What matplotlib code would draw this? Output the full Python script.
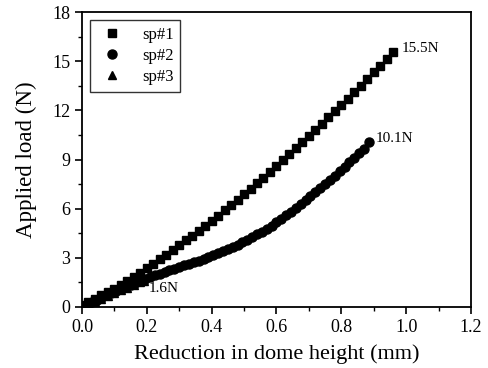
import numpy as np
import matplotlib.pyplot as plt
from matplotlib.ticker import MultipleLocator

plt.rcParams['font.family'] = ['Liberation Serif', 'DejaVu Serif']
plt.rcParams['mathtext.fontset'] = 'stix'

# sp#1 (squares)
sp1_x = [0.00, 0.02, 0.04, 0.06, 0.08, 0.10, 0.12, 0.14, 0.16, 0.18,
         0.20, 0.22, 0.24, 0.26, 0.28, 0.30, 0.32, 0.34, 0.36, 0.38,
         0.40, 0.42, 0.44, 0.46, 0.48, 0.50, 0.52, 0.54, 0.56, 0.58,
         0.60, 0.62, 0.64, 0.66, 0.68, 0.70, 0.72, 0.74, 0.76, 0.78,
         0.80, 0.82, 0.84, 0.86, 0.88, 0.90, 0.92, 0.94, 0.96]
sp1_y = [0.10, 0.30, 0.50, 0.72, 0.92, 1.12, 1.35, 1.58, 1.82, 2.08,
         2.35, 2.62, 2.90, 3.18, 3.48, 3.78, 4.06, 4.35, 4.65, 4.95,
         5.25, 5.58, 5.90, 6.22, 6.55, 6.90, 7.22, 7.55, 7.90, 8.25,
         8.60, 8.95, 9.32, 9.70, 10.08, 10.45, 10.82, 11.20, 11.58, 11.95,
         12.32, 12.72, 13.12, 13.52, 13.92, 14.32, 14.72, 15.12, 15.55]

# sp#2 (circles)
sp2_x = [0.000, 0.015, 0.030, 0.045, 0.060, 0.075, 0.090, 0.105, 0.120, 0.135,
         0.150, 0.165, 0.180, 0.195, 0.210, 0.225, 0.240, 0.255, 0.270, 0.285,
         0.300, 0.315, 0.330, 0.345, 0.360, 0.375, 0.390, 0.405, 0.420, 0.435,
         0.450, 0.465, 0.480, 0.495, 0.510, 0.525, 0.540, 0.555, 0.570, 0.585,
         0.600, 0.615, 0.630, 0.645, 0.660, 0.675, 0.690, 0.705, 0.720, 0.735,
         0.750, 0.765, 0.780, 0.795, 0.810, 0.825, 0.840, 0.855, 0.870, 0.886]
sp2_y = [0.00, 0.14, 0.28, 0.42, 0.56, 0.70, 0.83, 0.96, 1.09, 1.22,
         1.35, 1.47, 1.59, 1.71, 1.82, 1.93, 2.04, 2.14, 2.24, 2.34,
         2.44, 2.54, 2.63, 2.73, 2.83, 2.93, 3.04, 3.15, 3.27, 3.39,
         3.52, 3.66, 3.80, 3.95, 4.10, 4.26, 4.43, 4.60, 4.78, 4.97,
         5.17, 5.38, 5.59, 5.81, 6.04, 6.27, 6.51, 6.75, 7.00, 7.25,
         7.50, 7.76, 8.02, 8.28, 8.55, 8.82, 9.10, 9.38, 9.66, 10.10]

# sp#3 (triangles), mostly hidden under the others
sp3_x = [0.00, 0.02, 0.04, 0.06, 0.08, 0.10, 0.12, 0.14, 0.16, 0.18, 0.19]
sp3_y = [0.00, 0.16, 0.33, 0.50, 0.67, 0.84, 1.01, 1.18, 1.35, 1.52, 1.60]

fig = plt.figure(figsize=(4.88, 3.68), dpi=100)
ax = fig.add_axes([0.168, 0.166, 0.797, 0.801])

ax.plot(sp3_x, sp3_y, '^', color='black', markersize=6, label='sp#3', zorder=2)
ax.plot(sp2_x, sp2_y, 'o', color='black', markersize=6.5, label='sp#2', zorder=3)
ax.plot(sp1_x, sp1_y, 's', color='black', markersize=6, label='sp#1', zorder=4)

# end-point annotations
ax.text(0.985, 15.75, '15.5N', fontsize=11, va='center', ha='left')
ax.text(0.905, 10.3, '10.1N', fontsize=11, va='center', ha='left')
ax.text(0.205, 1.15, '1.6N', fontsize=11, va='center', ha='left')

ax.set_xlim(0, 1.2)
ax.set_ylim(0, 18)
ax.xaxis.set_major_locator(MultipleLocator(0.2))
ax.xaxis.set_minor_locator(MultipleLocator(0.1))
ax.yaxis.set_major_locator(MultipleLocator(3))
ax.yaxis.set_minor_locator(MultipleLocator(1.5))
ax.xaxis.set_major_formatter(plt.FuncFormatter(lambda v, p: f'{v:.1f}'))
ax.tick_params(which='major', direction='out', length=5, width=1.2, labelsize=13)
ax.tick_params(which='minor', direction='out', length=3, width=1.0)
ax.tick_params(top=False, right=False)
for s in ax.spines.values():
    s.set_linewidth(1.3)

ax.set_xlabel('Reduction in dome height (mm)', fontsize=16, labelpad=6)
ax.set_ylabel('Applied load (N)', fontsize=16.5, labelpad=11)

h, l = ax.get_legend_handles_labels()
leg = ax.legend(h[::-1], l[::-1], loc='upper left', fontsize=12, frameon=True,
                fancybox=False, edgecolor='black', handletextpad=0.9,
                borderaxespad=0.5, labelspacing=0.3, handlelength=1.8,
                borderpad=0.4)
leg.get_frame().set_linewidth(1.0)

fig.savefig('out.png', dpi=100)
